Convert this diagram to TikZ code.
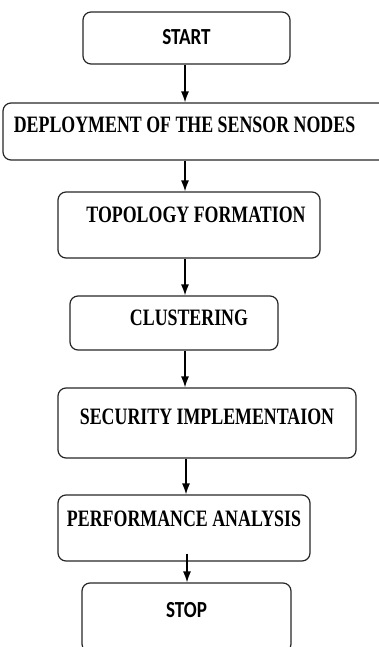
\documentclass[tikz,border=0pt]{standalone}
\usepackage{fontspec}
\setmainfont{Liberation Serif}[FakeStretch=0.76]
\newfontfamily\calibrifont{Carlito}[FakeStretch=0.83]
\usepackage{tikz}
\usetikzlibrary{shapes,arrows.meta,positioning}

\tikzset{
  flowbox/.style={draw=black!85, line width=1.2pt, rectangle, rounded corners=8pt,
    inner xsep=0pt, inner ysep=0pt, minimum height=0pt,
    font=\fontsize{23.5}{25}\selectfont\bfseries},
  flowarrow/.style={-{Latex[length=11pt,width=8pt]}, line width=1.3pt, black}
}

\begin{document}
\begin{tikzpicture}[x=1pt, y=-1pt]
        \clip (0,0) rectangle (379,647);
        \coordinate (axis) at (185,0);

        \node[flowbox, minimum width=207pt, text height=33pt, text depth=19pt, font=\fontsize{23}{24}\selectfont\calibrifont\bfseries] (start) at (186.5,38) {START};
        \node[flowbox, minimum width=392pt, text height=30pt, text depth=27pt] (deploy) at (199,131.5) {DEPLOYMENT OF THE SENSOR NODES\hspace*{29pt}};
        \node[flowbox, minimum width=262pt, text height=30pt, text depth=36pt] (topology) at (189,225) {\hspace*{14pt}TOPOLOGY FORMATION};
        \node[flowbox, minimum width=208pt, text height=29pt, text depth=25pt] (cluster) at (174,323) {\hspace*{30pt}CLUSTERING};
        \node[flowbox, minimum width=298pt, text height=36pt, text depth=34pt] (security) at (207,423) {SECURITY IMPLEMENTAION};
        \node[flowbox, minimum width=252pt, text height=31pt, text depth=35pt] (perf) at (184,528) {PERFORMANCE ANALYSIS};
        \node[flowbox, minimum width=209pt, text height=34pt, text depth=35pt, font=\fontsize{23}{24}\selectfont\calibrifont\bfseries] (stop) at (186.5,617.5) {STOP};

        \draw[flowarrow] (start.south -| axis) -- (deploy.north -| axis);
        \draw[flowarrow] (deploy.south -| axis) -- (topology.north -| axis);
        \draw[flowarrow] (topology.south -| axis) -- (cluster.north -| axis);
        \draw[flowarrow] (cluster.south -| axis) -- (security.north -| axis);
        \draw[flowarrow] ([xshift=1pt]security.south -| axis) -- ([xshift=1pt]perf.north -| axis);
        \draw[flowarrow] ([xshift=2pt,yshift=8pt]perf.south -| axis) -- ([xshift=2pt]stop.north -| axis);
    \end{tikzpicture}
\end{document}
